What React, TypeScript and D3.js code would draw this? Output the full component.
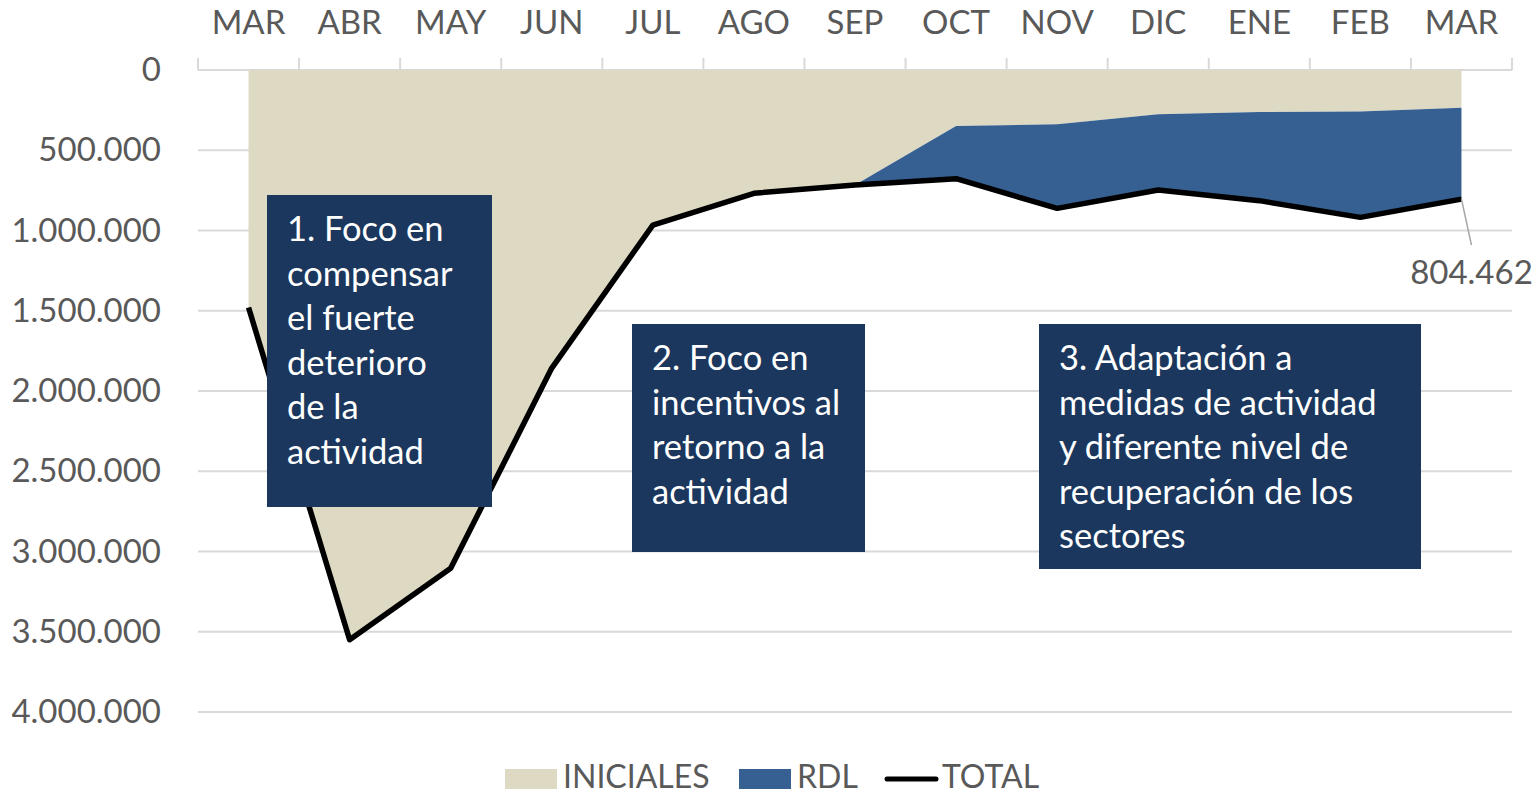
import React from 'react';
import * as d3 from 'd3';

const MONTHS = ['MAR', 'ABR', 'MAY', 'JUN', 'JUL', 'AGO', 'SEP', 'OCT', 'NOV', 'DIC', 'ENE', 'FEB', 'MAR'];
const INICIALES = [1480000, 3550000, 3105000, 1857000, 966000, 768000, 716000, 349000, 338000, 276000, 262000, 258000, 235000];
const RDL = [0, 0, 0, 0, 0, 0, 0, 328000, 524000, 472000, 552000, 660000, 569462];
const TOTAL = [1480000, 3550000, 3105000, 1857000, 966000, 768000, 716000, 677000, 862000, 748000, 814000, 918000, 804462];
const Y_TICKS = [0, 500000, 1000000, 1500000, 2000000, 2500000, 3000000, 3500000, 4000000];

const NOTES = [
  { x: 267, y: 195, w: 225, h: 312, lines: ['1. Foco en', 'compensar', 'el fuerte', 'deterioro', 'de la', 'actividad'] },
  { x: 632, y: 324, w: 233, h: 228, lines: ['2. Foco en', 'incentivos al', 'retorno a la', 'actividad'] },
  { x: 1039, y: 324, w: 382, h: 245, lines: ['3. Adaptación a', 'medidas de actividad', 'y diferente nivel de', 'recuperación de los', 'sectores'] },
];

const C_INI = '#ddd9c3';
const C_RDL = '#366092';
const C_BOX = '#1b375d';
const C_TXT = '#595959';
const C_GRID = '#d9d9d9';
const FONT = 'Lato, "Open Sans", sans-serif';

const locale = d3.formatLocale({ decimal: ',', thousands: '.', grouping: [3], currency: ['', '€'] });
const fmt = locale.format(',d');

export default function App() {
  const W = 1539;
  const H = 794;
  const left = 198;
  const right = 1512;
  const top = 70;
  const bottom = 712;

  const idx = MONTHS.map((_, i) => i);
  const x = d3.scaleBand<number>().domain(idx).range([left, right]).paddingInner(0).paddingOuter(0);
  const cx = (i: number) => (x(i) as number) + x.bandwidth() / 2;
  const y = d3.scaleLinear().domain([0, 4000000]).range([top, bottom]);

  const rows = idx.map((i) => ({ i, ini: INICIALES[i], rdl: RDL[i] }));
  const stack = d3.stack<any>().keys(['ini', 'rdl'])(rows);
  const area = d3
    .area<any>()
    .x((d) => cx(d.data.i))
    .y0((d) => y(d[0]))
    .y1((d) => y(d[1]));
  const line = d3
    .line<number>()
    .x((_, i) => cx(i))
    .y((d) => y(d));

  const last = TOTAL.length - 1;
  const lx = cx(last);
  const ly = y(TOTAL[last]);

  return (
    <div style={{ position: 'absolute', left: 0, top: 0 }}>
      <svg width={W} height={H} style={{ display: 'block', background: '#fff' }}>
        {/* gridlines */}
        {Y_TICKS.slice(1).map((t) => (
          <line key={t} x1={left} x2={right} y1={y(t)} y2={y(t)} stroke={C_GRID} strokeWidth={2} />
        ))}
        {/* top axis */}
        <line x1={left} x2={right} y1={top} y2={top} stroke={C_GRID} strokeWidth={2} />
        {d3.range(MONTHS.length + 1).map((k) => {
          const px = k < MONTHS.length ? (x(k) as number) : right;
          return <line key={k} x1={px} x2={px} y1={top} y2={top - 12} stroke={C_GRID} strokeWidth={2} />;
        })}

        {/* areas */}
        <path d={area(stack[0] as any) || ''} fill={C_INI} />
        <path d={area(stack[1] as any) || ''} fill={C_RDL} />

        {/* total line */}
        <path d={line(TOTAL) || ''} fill="none" stroke="#000" strokeWidth={5.5} strokeLinejoin="round" />

        {/* month labels */}
        {MONTHS.map((m, i) => (
          <text key={i} x={cx(i)} y={34} textAnchor="middle" fontFamily={FONT} fontSize={33} fill={C_TXT}>
            {m}
          </text>
        ))}

        {/* y labels */}
        {Y_TICKS.map((t) => (
          <text key={t} x={161} y={y(t) + 11} textAnchor="end" fontFamily={FONT} fontSize={33} fill={C_TXT}>
            {fmt(t)}
          </text>
        ))}

        {/* data label */}
        <line x1={lx} y1={ly} x2={lx + 10} y2={ly + 46} stroke="#a6a6a6" strokeWidth={1.5} />
        <text x={lx + 10} y={284} textAnchor="middle" fontFamily={FONT} fontSize={33} fill={C_TXT}>
          {fmt(TOTAL[last])}
        </text>

        {/* notes */}
        {NOTES.map((n, k) => (
          <g key={k}>
            <rect x={n.x} y={n.y} width={n.w} height={n.h} fill={C_BOX} />
            <text fontFamily={FONT} fontSize={34.5} fill="#fff">
              {n.lines.map((s, j) => (
                <tspan key={j} x={n.x + 20} y={n.y + 46 + j * 44.6}>
                  {s}
                </tspan>
              ))}
            </text>
          </g>
        ))}

        {/* legend */}
        <rect x={505} y={769} width={52} height={20} fill={C_INI} />
        <text x={563} y={788} fontFamily={FONT} fontSize={32} fill={C_TXT}>INICIALES</text>
        <rect x={739} y={769} width={52} height={20} fill={C_RDL} />
        <text x={797} y={788} fontFamily={FONT} fontSize={32} fill={C_TXT}>RDL</text>
        <line x1={887} x2={936} y1={779} y2={779} stroke="#000" strokeWidth={5} strokeLinecap="round" />
        <text x={942} y={788} fontFamily={FONT} fontSize={32} fill={C_TXT}>TOTAL</text>
      </svg>
    </div>
  );
}
